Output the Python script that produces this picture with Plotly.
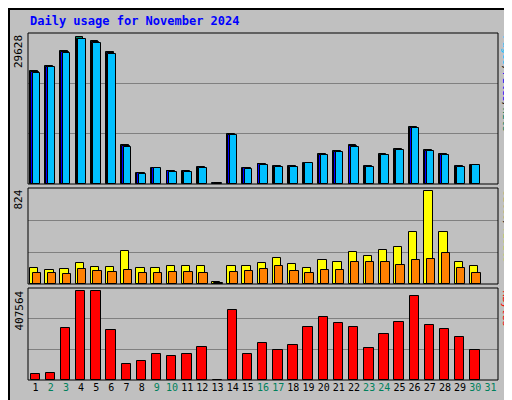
import plotly.graph_objects as go

days = list(range(1, 31))
weekend = {2, 3, 9, 10, 16, 17, 23, 24, 30, 31}
hits = [22914, 23919, 26934, 29628, 28944, 26733, 7839, 2211, 3216, 2613, 2613, 3417, 201, 10050, 3216,
        4020, 3618, 3618, 4221, 6030, 6633, 7839, 3618, 6030, 7035, 11457, 6834, 6030, 3618, 3819]
files = [22700, 23700, 26700, 29400, 28700, 26500, 7700, 2150, 3150, 2580, 2580, 3350, 190, 9950, 3150,
         3950, 3550, 3550, 4150, 5950, 6550, 7700, 3550, 5950, 6950, 11350, 6700, 5950, 3580, 3780]
pages = [22500, 23600, 26500, 29400, 28500, 26300, 7500, 2000, 3150, 2500, 2500, 3200, 150, 9950, 3000,
         3800, 3500, 3400, 4150, 5800, 6550, 7500, 3400, 5900, 6900, 11300, 6600, 5800, 3450, 3750]
visits = [143, 125, 134, 188, 152, 152, 296, 143, 143, 161, 161, 161, 18, 161, 161,
          188, 233, 179, 143, 215, 197, 287, 251, 305, 323, 457, 824, 457, 197, 161]
sites = [99, 99, 90, 134, 116, 108, 125, 99, 99, 108, 108, 99, 9, 108, 116,
         134, 161, 116, 99, 125, 125, 197, 197, 197, 170, 215, 224, 278, 143, 99]
kbytes = [27786, 32417, 236181, 407564, 406000, 226919, 74096, 87989, 120406, 111144, 120406, 152823, 1000,
          319539, 120406, 166716, 138930, 157454, 240812, 287122, 259336, 240812, 148192, 208395, 263967,
          384373, 250074, 231550, 194502, 138930]

H, T, B = 400, 25, 28
L, R = 20, 22
pw = 512 - L - R
ph = H - T - B
def dom(top, bot):
    return [(H - B - bot) / ph, (H - B - top) / ph]

fig = go.Figure()
line = dict(color="black", width=1)
def bar(y, color, off, w, ax):
    fig.add_trace(go.Bar(x=days, y=y, offset=off, width=w, marker=dict(color=color, line=line),
                         xaxis="x", yaxis=ax, showlegend=False, hoverinfo="skip"))

bar(hits, "#00805C", -0.36, 0.5, "y")
bar(files, "#0000FF", -0.3, 0.5, "y")
bar(pages, "#00C0FF", -0.2, 0.5, "y")
bar(visits, "#FFFF00", -0.36, 0.55, "y2")
bar(sites, "#FF8000", -0.2, 0.55, "y2")
bar(kbytes, "#FF0000", -0.33, 0.62, "y3")

def yax(d, mx):
    return dict(domain=d, range=[0, mx * 1.03], tickvals=[mx * 1.03 / 3, mx * 2.06 / 3],
                showticklabels=False, showgrid=True, gridcolor="#808080", gridwidth=1,
                zeroline=False, ticks="", fixedrange=True)

fig.update_layout(
    width=512, height=400, barmode="overlay", bargap=0,
    margin=dict(l=L, r=R, t=T, b=B),
    paper_bgcolor="#C0C0C0", plot_bgcolor="#C0C0C0",
    font=dict(family="DejaVu Sans Mono", size=11, color="black"),
    xaxis=dict(range=[0.5, 31.5], tickvals=list(range(1, 32)), tickangle=0,
               tickfont=dict(size=10),
               ticktext=[f'<span style="color:{"#00805C" if d in weekend else "black"}">{d}</span>' for d in range(1, 32)],
               showgrid=False, zeroline=False, ticks="", anchor="y3", fixedrange=True),
    yaxis=yax(dom(25, 176), 29628),
    yaxis2=yax(dom(180, 276), 824),
    yaxis3=yax(dom(280, 372), 407564),
)

shapes = [dict(type="rect", xref="paper", yref="paper", x0=-(L - 1) / pw, x1=(pw + R - 1) / pw,
               y0=-(B - 1) / ph, y1=(ph + T - 1) / ph, line=dict(color="black", width=2))]
for (t, b) in [(25, 176), (180, 276), (280, 372)]:
    d = dom(t, b)
    shapes.append(dict(type="rect", xref="paper", yref="paper", x0=0, x1=1, y0=d[0], y1=d[1],
                       line=dict(color="black", width=1)))
fig.update_layout(shapes=shapes)

ann = [dict(text="<b>Daily usage for November 2024</b>", xref="paper", yref="paper", x=0, y=1,
            xanchor="left", yanchor="bottom", yshift=3, showarrow=False, font=dict(color="#0000FF", size=12))]
for (t, b), lab in [((25, 176), "29628"), ((180, 276), "824"), ((280, 372), "407564")]:
    d = dom(t, b)
    ann.append(dict(text=lab, xref="paper", yref="paper", x=0, y=d[1], xanchor="right", yanchor="top",
                    textangle=-90, showarrow=False, xshift=-1, font=dict(size=11)))
right = [((25, 176), '<span style="color:#00C0FF">Pages</span>/<span style="color:#0000FF">Files</span>/<span style="color:#00805C">Hits</span>'),
         ((180, 276), '<span style="color:#FF8000">Sites</span>/<span style="color:#FFFF00">Visits</span>'),
         ((280, 372), '<span style="color:#FF0000">KBytes</span>')]
for (t, b), lab in right:
    d = dom(t, b)
    ann.append(dict(text=lab, xref="paper", yref="paper", x=1, y=d[1], xanchor="left", yanchor="top",
                    textangle=90, showarrow=False, xshift=1, font=dict(size=10)))
fig.update_layout(annotations=ann)
fig.write_html("out.html")
